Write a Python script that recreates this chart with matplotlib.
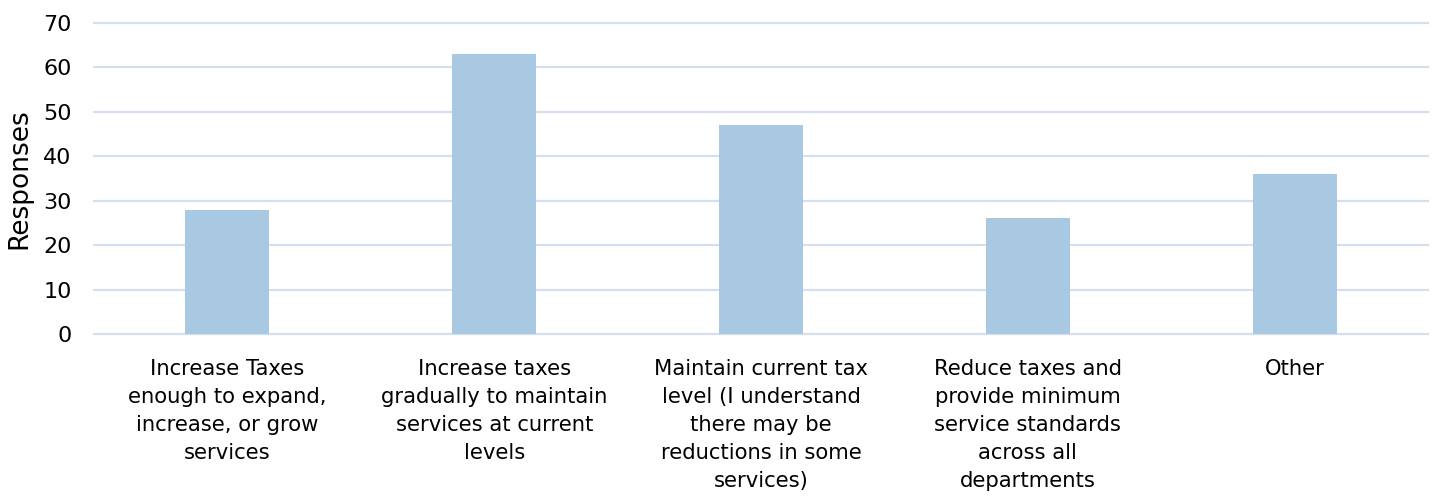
import numpy as np
import matplotlib.pyplot as plt

categories = [
    'Increase Taxes\nenough to expand,\nincrease, or grow\nservices',
    'Increase taxes\ngradually to maintain\nservices at current\nlevels',
    'Maintain current tax\nlevel (I understand\nthere may be\nreductions in some\nservices)',
    'Reduce taxes and\nprovide minimum\nservice standards\nacross all\ndepartments',
    'Other',
]
responses = [28, 63, 47, 26, 36]

fig = plt.figure(figsize=(14.32, 4.96), dpi=100)
ax = fig.add_axes([94 / 1432, 1 - 334 / 496, (1428 - 94) / 1432, 311 / 496])

x = np.arange(len(categories))
ax.bar(x, responses, width=0.315, color='#A9C8E1', zorder=2)

ax.set_xlim(-0.5, len(categories) - 0.5)
ax.set_ylim(0, 70)
ax.set_yticks(range(0, 71, 10))
ax.set_xticks(x)
ax.set_xticklabels(categories, fontsize=15.2, linespacing=1.5, va='top')
ax.tick_params(axis='y', labelsize=16, length=0, pad=16)
ax.tick_params(axis='x', length=0, pad=18)
ax.set_ylabel('Responses', fontsize=19)
ax.yaxis.set_label_coords(-0.0465, 0.5)

ax.grid(axis='y', color='#D5DFEF', linewidth=1.6, zorder=0)
for gl in ax.get_ygridlines():
    gl.set_clip_on(False)
for s in ax.spines.values():
    s.set_visible(False)

fig.savefig('out.png', dpi=100)
